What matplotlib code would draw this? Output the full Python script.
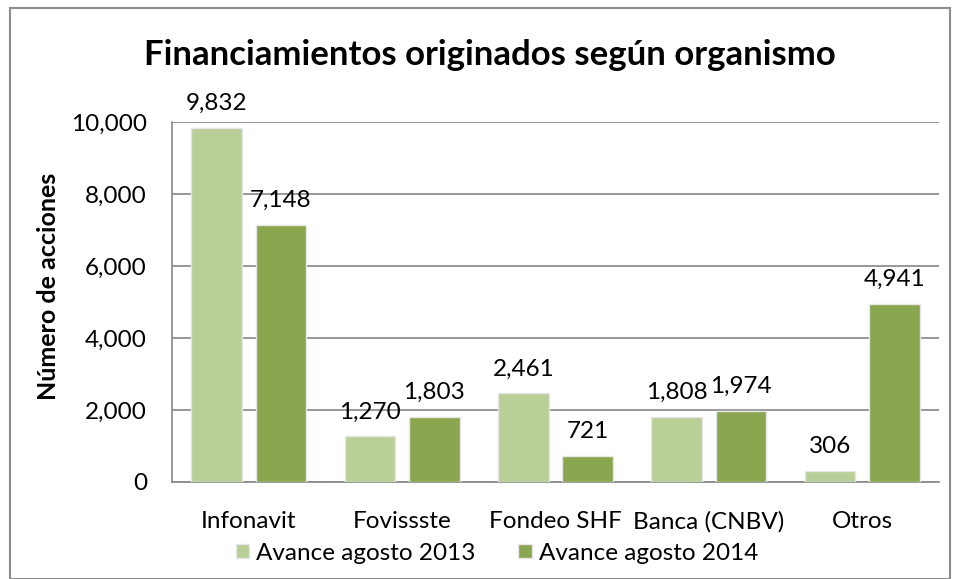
import matplotlib
matplotlib.use("Agg")
import matplotlib.pyplot as plt
import numpy as np
from matplotlib.patches import Rectangle

categories = ["Infonavit", "Fovissste", "Fondeo SHF", "Banca (CNBV)", "Otros"]
series_names = ["Avance agosto 2013", "Avance agosto 2014"]
values_2013 = [9832, 1270, 2461, 1808, 306]
values_2014 = [7148, 1803, 721, 1974, 4941]
yticks = [0, 2000, 4000, 6000, 8000, 10000]

colors = ["#B9CF97", "#8AA64E"]
FONT = "Lato"
plt.rcParams["font.family"] = [FONT, "DejaVu Sans"]

fig = plt.figure(figsize=(9.57, 5.79), dpi=100)
# outer border
fig.patches.append(Rectangle((10/957, 0), 940/957, 1 - 8/579, transform=fig.transFigure,
                             fill=False, edgecolor="#8C8C8C", linewidth=1.5))

L, R, T, B = 172, 939, 122, 482
ax = fig.add_axes([L/957, 1 - B/579, (R - L)/957, (B - T)/579])
x = np.arange(len(categories))
w = 0.33
off = 0.21
b1 = ax.bar(x - off, values_2013, w, color=colors[0], label=series_names[0],
            edgecolor="#E6E6E6", linewidth=1.0, zorder=3)
b2 = ax.bar(x + off, values_2014, w, color=colors[1], label=series_names[1],
            edgecolor="#E6E6E6", linewidth=1.0, zorder=3)

for bars, vals in ((b1, values_2013), (b2, values_2014)):
    for rect, v in zip(bars, vals):
        ax.annotate(f"{v:,}", (rect.get_x() + rect.get_width() / 2, v),
                    xytext=(0, 10), textcoords="offset points", ha="center", va="bottom",
                    fontsize=17.5, color="black", annotation_clip=False)

ax.set_xlim(-0.5, len(categories) - 0.5)
ax.set_ylim(0, 10000)
ax.set_yticks(yticks)
ax.set_yticklabels([f"{t:,}" for t in yticks], fontsize=17.5)
ax.set_xticks(x)
ax.set_xticklabels(categories, fontsize=17.5)
ax.tick_params(axis="y", length=0, pad=18)
ax.tick_params(axis="x", length=0, pad=21)
ax.grid(axis="y", color="#868686", linewidth=1.2, zorder=0)
ax.set_axisbelow(True)
for s in ["top", "right"]:
    ax.spines[s].set_visible(False)
for s in ["bottom", "left"]:
    ax.spines[s].set_color("#868686")
    ax.spines[s].set_linewidth(1.2)

ax.set_ylabel("Número de acciones", fontsize=18, fontweight="bold")
ax.yaxis.set_label_coords((60 - L) / (R - L), (B - 286) / (B - T))

fig.text(490/957, 1 - 55/579, "Financiamientos originados según organismo",
         ha="center", va="center", fontsize=25, fontweight="bold")

leg = fig.legend(handles=[b1, b2], labels=series_names, loc="center",
                 bbox_to_anchor=(497/957, 1 - 553/579), ncol=2, frameon=False,
                 fontsize=17.5, handlelength=0.55, handleheight=0.55, handletextpad=0.3,
                 columnspacing=1.75, borderaxespad=0)

fig.savefig("out.png", dpi=100)
